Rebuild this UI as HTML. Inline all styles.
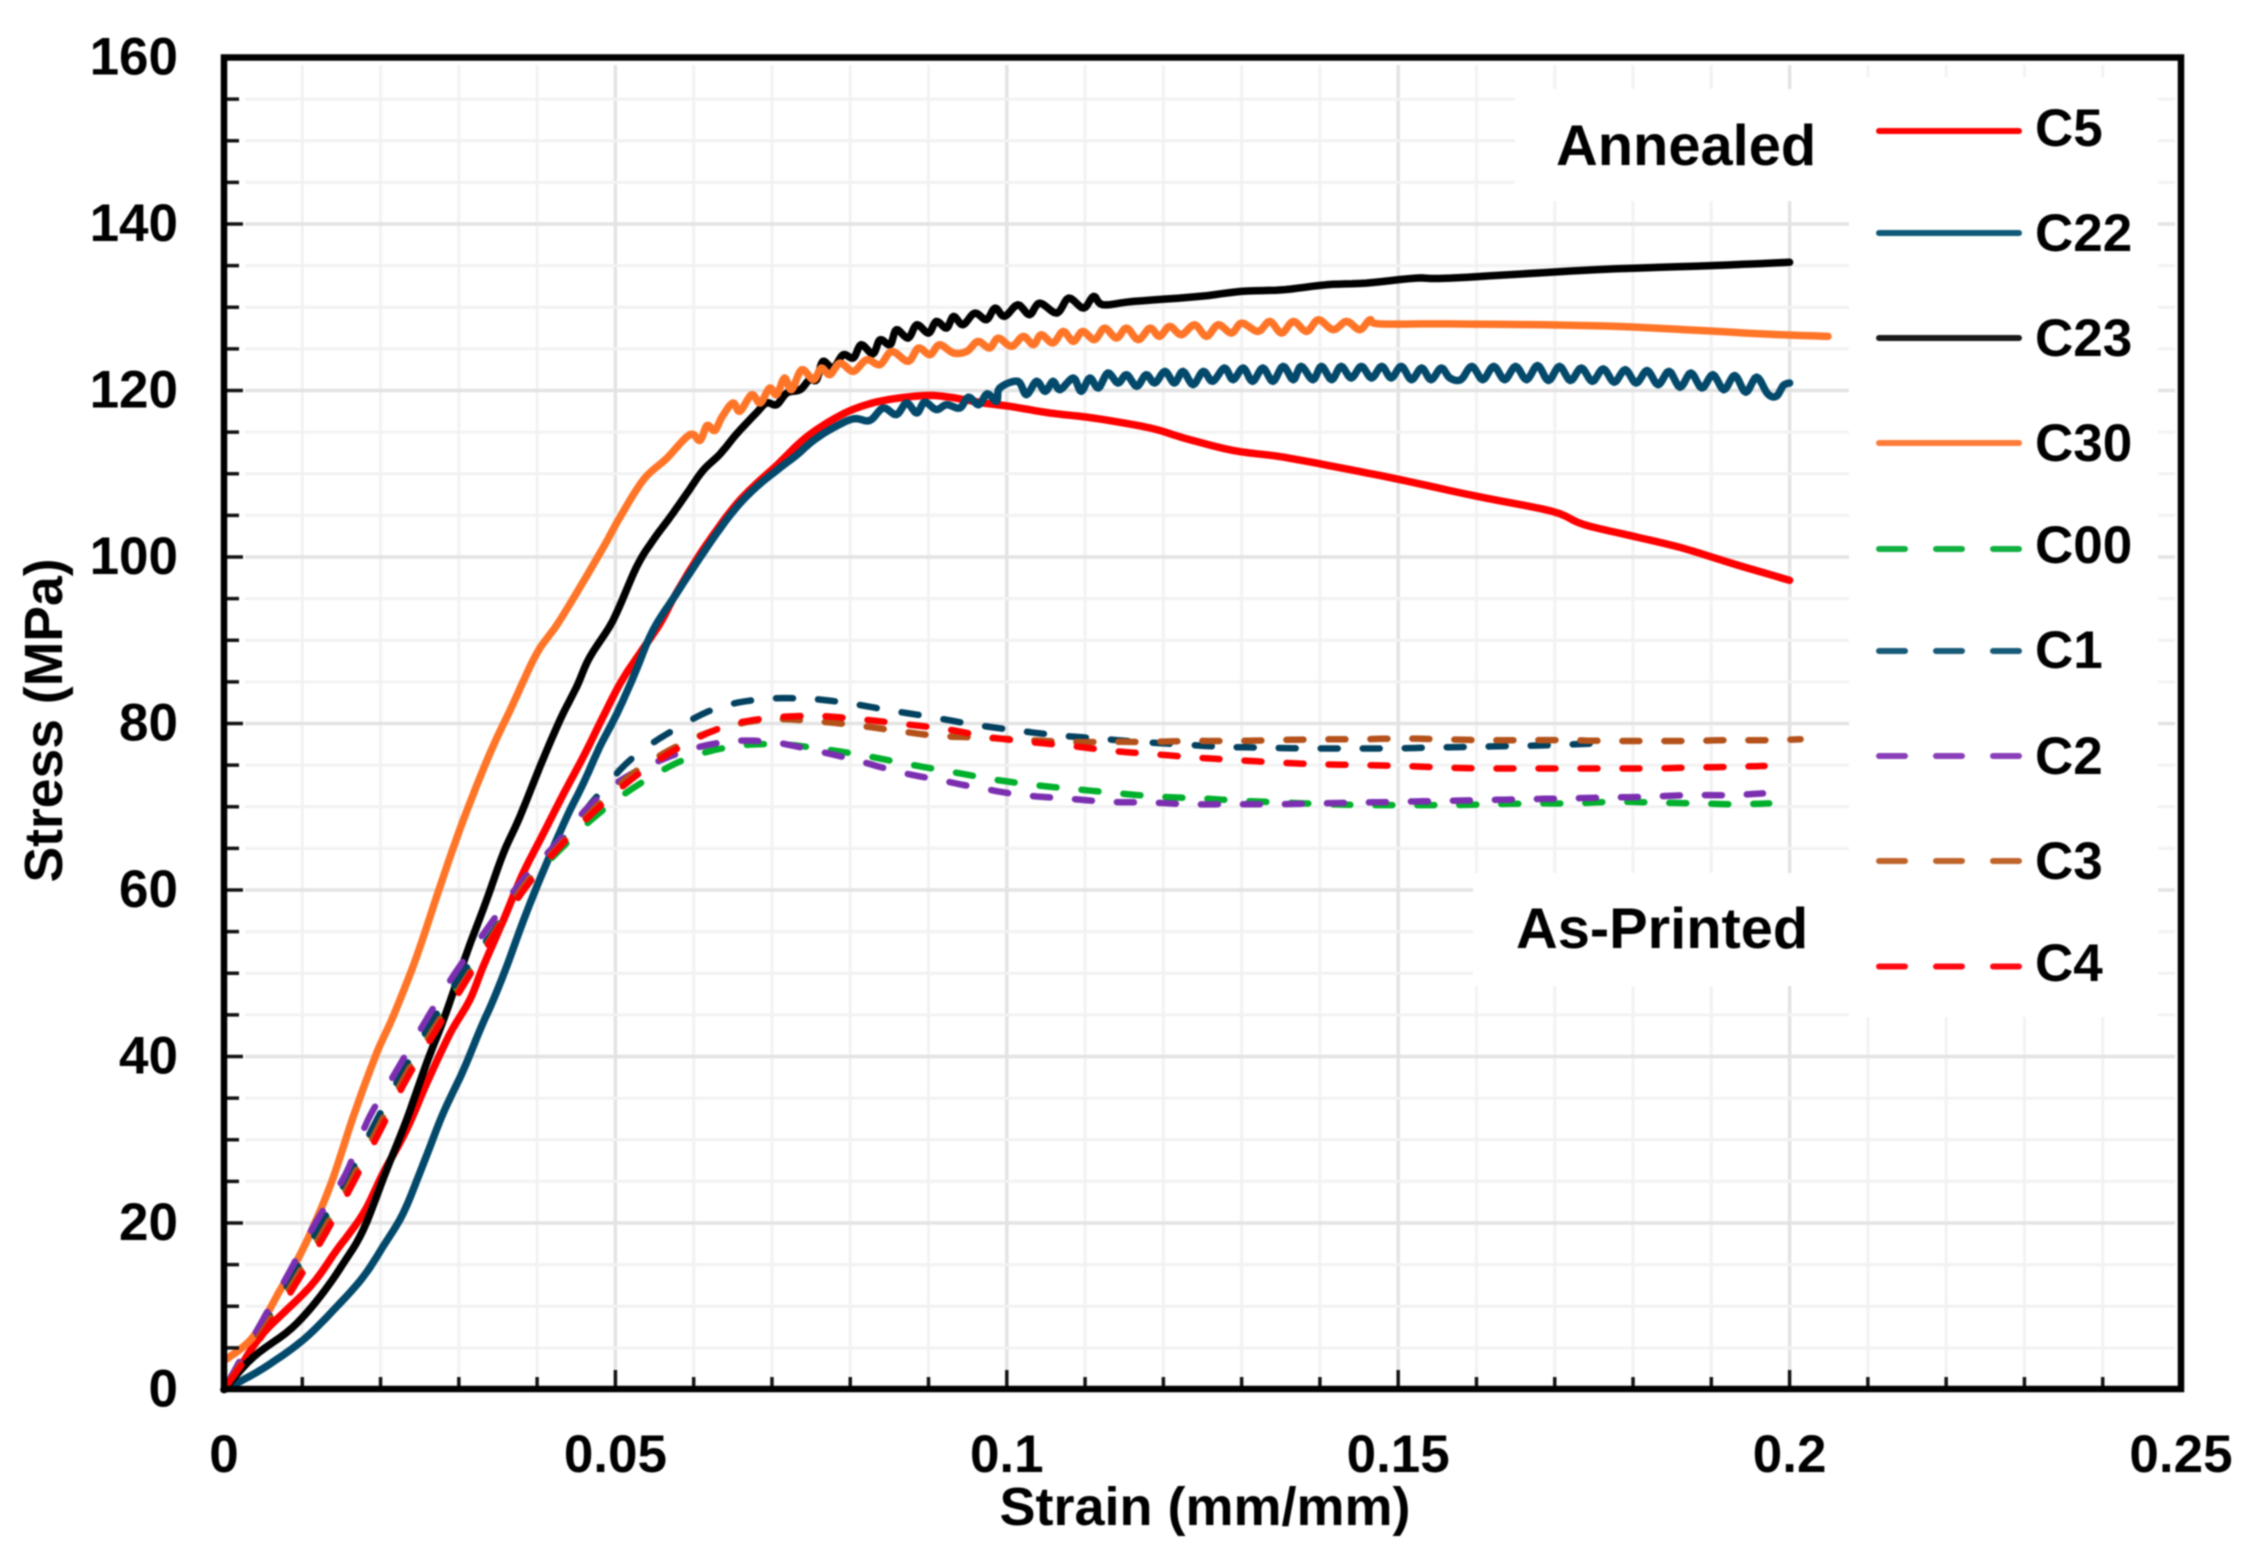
<!DOCTYPE html>
<html lang="en">
<head>
<meta charset="utf-8">
<title>Stress-strain curves</title>
<style>
html,body{margin:0;padding:0;background:#fff;width:2250px;height:1550px;overflow:hidden}
svg{display:block;filter:blur(0.8px)}
text{font-family:"Liberation Sans",Arial,sans-serif;font-weight:bold;fill:#000}
</style>
</head>
<body>
<svg id="chart" xmlns="http://www.w3.org/2000/svg" width="2250" height="1550" viewBox="0 0 2250 1550">
<rect x="0" y="0" width="2250" height="1550" fill="#fff"/>
<g id="grid"></g>
<g fill="#fff">
<rect x="1515" y="89" width="340" height="112"/>
<rect x="1849" y="77" width="309" height="940"/>
<rect x="1473" y="873" width="380" height="113"/>
</g>
<g id="series"></g>
<g id="ticks"></g>
<rect x="224" y="57.5" width="1957" height="1331.5" fill="none" stroke="#000" stroke-width="6.5"/>
<g id="tick-labels"></g>
<text x="1205" y="1525" font-size="54" text-anchor="middle">Strain (mm/mm)</text>
<text x="0" y="0" font-size="53.5" text-anchor="middle" transform="translate(62 720.5) rotate(-90)">Stress (MPa)</text>
<text x="1556" y="165" font-size="57.8">Annealed</text>
<text x="1516" y="948" font-size="57.8">As-Printed</text>
<g id="legend"></g>
</svg>
<script>
var xTicks = [0, 0.05, 0.1, 0.15, 0.2, 0.25];
var xTickLabels = ["0", "0.05", "0.1", "0.15", "0.2", "0.25"];
var yTicks = [0, 20, 40, 60, 80, 100, 120, 140, 160];
var yTickLabels = ["0", "20", "40", "60", "80", "100", "120", "140", "160"];

var c5Strain = [0,.002,.005,.011,.0144,.0178,.0203,.0233,.0259,.0289,.0314,.0331,.0357,.0382,.0408,.0434,.0459,.048,.0506,.0531,.0557,.0575,.0603,.0629,.0655,.068,.0706,.0744,.0787,.0821,.0855,.0897,.0927,.097,.1004,.1055,.111,.1183,.1226,.1289,.1353,.1438,.1502,.16,.1696,.1737,.18,.1862,.1931,.2];
var c5Stress = [0,2.6,6.75,12.35,16.75,21.15,25.95,31.15,36.8,42.8,46.8,50.8,56.4,62,66.8,71.6,76,80,84.8,88.4,92,95.2,99.6,103.2,106.4,108.8,111,114.4,117,118.3,119,119.4,119.2,118.5,118.1,117.3,116.7,115.5,114.3,112.8,112,110.5,109.3,107.3,105.5,103.9,102.5,101.1,99.1,97.2];

var c22Strain = [0,.00077,.005,.0101,.0144,.0178,.0203,.0229,.0255,.028,.0306,.0327,.0344,.0361,.0386,.0412,.0438,.0459,.048,.0502,.0523,.0548,.0578,.0603,.0629,.0655,.068,.0706,.0731,.0753,.0778,.0804,.0825,.0842,.0859,.0872,.0885,.0895,.091,.0923,.094,.0951,.0964,.0975,.0987,.0991,.1014,.1025,.1038,.1049,.1059,.1068,.1085,.1095,.1106,.1117,.1129,.1142,.1153,.1166,.1178,.1189,.1202,.1214,.1225,.1238,.1251,.1263,.1278,.1289,.1302,.1314,.1327,.134,.1353,.1366,.1376,.1391,.1402,.1415,.1427,.144,.1453,.1466,.1479,.1491,.1504,.1517,.153,.1542,.1555,.1566,.158,.1594,.1608,.1622,.1636,.165,.1664,.1678,.1692,.1706,.172,.1734,.1748,.1762,.1776,.179,.1804,.1818,.1832,.1846,.186,.1874,.1888,.1902,.1916,.193,.1944,.1958,.1972,.1983,.1992,.2];
var c22Stress = [0,.34,2.54,5.95,9.95,13.55,17.15,21.2,27.2,33.2,38.4,43.2,46.8,50.8,57.2,63.2,68.8,72.8,77.2,81.2,85.6,91.2,95.6,99.2,102.8,106,108.4,110.4,112.2,114,115.5,116.6,116.4,117.9,117.1,118.5,117.3,118.6,117.7,118.3,117.9,119.2,118.3,119.6,118.7,120.3,121.1,119.5,121.1,119.9,121.1,120.1,121.5,119.9,121.5,120.3,122.1,120.9,121.9,120.5,121.9,120.9,122.3,120.9,122.3,120.7,122.3,121.1,122.7,121.3,122.7,121.1,122.7,121.1,122.9,121.3,122.9,121.3,122.9,121.3,122.9,121.5,122.9,121.5,122.9,121.5,122.9,121.3,122.7,121.3,122.7,121.5,121.3,122.9,121.3,122.9,121.3,122.9,121.3,123,121.2,122.9,121.2,122.7,121.1,122.6,121,122.5,120.9,122.4,120.7,122.3,120.4,122.1,120.3,121.9,120.1,121.8,119.8,121.6,119.6,119.3,120.6,120.9];

var c23Strain = [0,.00375,.00864,.01226,.01524,.0178,.02078,.02333,.02588,.0282,.031,.03355,.03568,.0378,.04036,.04291,.04504,.04674,.0497,.0527,.0548,.057,.0591,.0612,.0634,.0655,.068,.0693,.0706,.0719,.0736,.0748,.0757,.0765,.0778,.0791,.0804,.0814,.0829,.0838,.0851,.0859,.0874,.0885,.09,.091,.0923,.0932,.0944,.0959,.0974,.0985,.0997,.1014,.1029,.1042,.1064,.1079,.1098,.1111,.1123,.1162,.1246,.1299,.1353,.1408,.1459,.1523,.1566,.1751,.19,.2];
var c23Stress = [0,3.9,7.35,11.15,15.15,19.2,26.4,32.4,39.2,44.8,52.4,58.8,64.4,68.8,74.8,80.4,84.4,88,92.4,98.8,102,104.8,107.6,110.4,112.4,114.8,117.3,118.5,118.3,119.7,120.1,121.3,121.3,123.5,122.7,124.3,123.9,125.5,124.4,126.1,125.5,127.3,126.3,127.9,126.9,128.3,127.5,128.9,127.9,129.3,128.5,129.9,128.9,130.3,129.1,130.5,129.3,131.1,129.9,131.3,130.3,130.7,131.3,131.9,132.1,132.7,132.9,133.5,133.5,134.5,135,135.4];

var c30Strain = [.0004,.00375,.00694,.01013,.01354,.01652,.0195,.0216,.02461,.02759,.03057,.03397,.03695,.03994,.04291,.048,.0506,.0536,.0565,.0595,.0608,.0617,.0627,.0636,.065,.0659,.0674,.0685,.0697,.0706,.0716,.0725,.0738,.0753,.0763,.0774,.0787,.0804,.0821,.0838,.0853,.0874,.0887,.0902,.0914,.0932,.0949,.0963,.0978,.0989,.1006,.1021,.1034,.1044,.1059,.1072,.1085,.1097,.1112,.1125,.114,.1153,.1168,.1183,.1195,.1208,.1223,.124,.1255,.127,.1287,.13,.1321,.1336,.1351,.1366,.1383,.1398,.1417,.1434,.1451,.1464,.1476,.1566,.1744,.1848,.1965,.2049];
var c30Stress = [3.7,6.35,11.55,16.96,24.4,32.8,40.4,44.8,52,60.4,68.4,76.4,82.4,88.4,92.4,100.4,104.8,109.3,111.8,114.7,114,115.8,115.2,116.8,118.5,117.5,119.5,118.5,120.3,119.5,121.5,120.1,122.5,121.3,122.7,121.9,123.3,122.3,123.7,123.1,124.7,123.5,125.1,124.3,125.5,124.5,124.7,125.9,125.1,126.3,125.3,126.5,125.5,126.7,125.7,127.1,125.9,127.1,126.1,127.5,126.3,127.5,126.1,127.5,126.5,127.7,126.7,127.9,126.5,127.9,126.9,128.1,127.1,128.3,126.9,128.3,127.1,128.5,127.3,128.3,127.3,128.5,128,128,127.8,127.4,126.8,126.5];

var c00Strain = [0,.0052,.0089,.0123,.0159,.0193,.0227,.0263,.0301,.0344,.0386,.0433,.0484,.0542,.0597,.0655,.0711,.0768,.0821,.0875,.0929,.0982,.1036,.1089,.1144,.1196,.1248,.1303,.1356,.1411,.1464,.1516,.1568,.162,.1672,.1724,.1776,.1828,.188,.1932,.1974];
var c00Stress = [0,7.75,13.6,19.4,25.4,31.8,37.8,43.4,48.8,54.4,60.4,65.2,69.6,73.4,76,77.3,77.5,76.9,76.1,75.1,74.2,73.3,72.6,72.1,71.6,71.2,71,70.7,70.5,70.3,70.2,70.2,70.2,70.3,70.4,70.4,70.6,70.5,70.4,70.3,70.4];

var c1Strain = [0,.0052,.0089,.0123,.0159,.0193,.0227,.0263,.0301,.0344,.0386,.043,.0476,.0521,.0574,.0628,.0685,.0741,.0794,.0849,.0902,.0956,.1009,.1063,.1115,.1168,.1222,.1276,.1328,.1382,.1434,.1488,.154,.1594,.1646,.1698,.1749,.176];
var c1Stress = [0,7.9,13.9,19.8,25.6,32,38,43.8,49.5,55,60.8,65.8,71.2,75.8,79.2,81.8,82.9,83,82.5,81.6,80.8,79.9,79.2,78.6,78.2,77.8,77.5,77.2,77.1,77,77,77,77.1,77.2,77.3,77.4,77.6,77.7];

var c2Strain = [0,.0048,.0084,.0118,.0155,.0184,.0221,.0257,.0295,.0335,.0378,.0421,.0468,.0514,.058,.0641,.0697,.0753,.0807,.0861,.0914,.0968,.102,.1075,.1129,.1183,.1238,.1291,.1343,.1398,.1451,.1503,.1557,.161,.1662,.1714,.1766,.1819,.1871,.1923,.1966];
var c2Stress = [0,8.1,14.2,20.2,25.8,32.4,38.4,44.2,50,55.2,60.8,65.2,70.2,73.6,76.4,77.8,77.8,76.8,75.6,74.2,73.2,72.2,71.4,71,70.6,70.5,70.3,70.3,70.3,70.4,70.5,70.6,70.7,70.8,70.9,71,71.1,71.2,71.4,71.4,71.6];

var c3Strain = [0,.0054,.0092,.0127,.0163,.0197,.0231,.0267,.0308,.0346,.0384,.0431,.048,.0531,.059,.0642,.0695,.0751,.0807,.0861,.0914,.0968,.1075,.1131,.1183,.1238,.1291,.1344,.1398,.1451,.1503,.1557,.1609,.1662,.1714,.1765,.1817,.1867,.192,.1971,.2014];
var c3Stress = [0,7.7,13.4,19.1,25.2,31.5,37.6,43.2,49.2,55,60.6,65.6,70.4,74.6,77.8,79.6,80.5,80.3,79.8,79.1,78.5,78.3,77.8,77.8,77.8,77.9,77.9,78,78.1,78.1,78.2,78.1,78,78,78,77.9,77.9,77.9,78,78,78.1];

var c4Strain = [0,.0057,.0095,.013,.0166,.02,.0234,.027,.031,.0348,.0386,.0433,.0482,.0536,.0591,.0645,.0702,.0758,.0814,.0871,.0924,.0975,.1027,.1082,.1136,.119,.1243,.1295,.1348,.1401,.1454,.1506,.156,.1611,.1664,.1716,.177,.1822,.1874,.1926,.1968];
var c4Stress = [0,7.6,13.2,18.8,25,31.2,37.4,43,49.2,55,60.4,65.6,70.2,74.4,77.6,79.8,80.7,80.9,80.5,79.9,79.3,78.4,77.8,77.3,76.7,76.3,75.9,75.6,75.3,75.1,75,74.9,74.7,74.6,74.6,74.6,74.6,74.6,74.7,74.8,74.9];

var solidSeries = [
  {name:"C5", color:"#ff0000", strain:c5Strain, stress:c5Stress},
  {name:"C22", color:"#02496b", strain:c22Strain, stress:c22Stress},
  {name:"C23", color:"#000000", strain:c23Strain, stress:c23Stress},
  {name:"C30", color:"#ff7528", strain:c30Strain, stress:c30Stress}
];
var dashedSeries = [
  {name:"C00", color:"#00b02c", strain:c00Strain, stress:c00Stress},
  {name:"C1", color:"#02415f", strain:c1Strain, stress:c1Stress},
  {name:"C2", color:"#7b2fb0", strain:c2Strain, stress:c2Stress},
  {name:"C3", color:"#b4511a", strain:c3Strain, stress:c3Stress},
  {name:"C4", color:"#ff0000", strain:c4Strain, stress:c4Stress}
];
var legendNames = ["C5","C22","C23","C30","C00","C1","C2","C3","C4"];
var legendColors = ["#ff0000","#0f5a78","#1a1a1a","#ff7b3a","#10b040","#175a78","#8a3fb8","#bf6429","#ff0a14"];

var NS = "http://www.w3.org/2000/svg";
function xScale(v){ return 224 + v * 7828; }
function yScale(v){ return 1389.5 - v * 8.325; }
function make(tag, parent, attrs){
  var el = document.createElementNS(NS, tag);
  for (var k in attrs) el.setAttribute(k, attrs[k]);
  parent.appendChild(el);
  return el;
}

var gridG = document.getElementById("grid");
var ticksG = document.getElementById("ticks");
var labelsG = document.getElementById("tick-labels");
var seriesG = document.getElementById("series");
var legendG = document.getElementById("legend");

var i;
for (i = 1; i < 25; i++) {
  var xv = i / 100;
  var isMajorX = i % 5 === 0;
  var px = xScale(xv);
  var gx = make("line", gridG, {x1:px, x2:px, y1:65, y2:isMajorX ? 1370 : 1376, stroke:isMajorX ? "#e3e3e3" : "#f2f2f2", "stroke-width":isMajorX ? 3.5 : 3});
  
  
  var tx = make("line", ticksG, {x1:px, x2:px, y1:1389, y2:isMajorX ? 1370 : 1377, stroke:"#111", "stroke-width":3.5});
  
  
}
for (i = 5; i < 160; i += 5) {
  var isMajorY = i % 20 === 0;
  var py = yScale(i);
  var gy = make("line", gridG, {x1:245, x2:2175, y1:py, y2:py, stroke:isMajorY ? "#e3e3e3" : "#f2f2f2", "stroke-width":isMajorY ? 3.5 : 3});
  
  
  var ty = make("line", ticksG, {x1:224, x2:isMajorY ? 243 : 239, y1:py, y2:py, stroke:"#111", "stroke-width":3.5});
  
  
}
xTicks.forEach(function(v, idx){
  var t = make("text", labelsG, {x:xScale(v), y:1472, "font-size":53, "text-anchor":"middle"});
  t.textContent = xTickLabels[idx];
  
  
});
yTicks.forEach(function(v, idx){
  var t = make("text", labelsG, {x:178, y:yScale(v) + 17, "font-size":53, "text-anchor":"end"});
  t.textContent = yTickLabels[idx];
  
  
});

function pointsOf(s){
  return s.strain.map(function(v, k){ return [xScale(v), yScale(s.stress[k])]; });
}
/* Catmull-Rom sampling so the read-off points join as a smooth curve */
function smoothOf(pts){
  var out = [pts[0]];
  for (var k = 0; k < pts.length - 1; k++) {
    var p0 = pts[Math.max(k-1, 0)], p1 = pts[k], p2 = pts[k+1], p3 = pts[Math.min(k+2, pts.length-1)];
    for (var n = 1; n <= 6; n++) {
      var t = n/6, t2 = t*t, t3 = t2*t;
      out.push([
        0.5*(2*p1[0] + (p2[0]-p0[0])*t + (2*p0[0]-5*p1[0]+4*p2[0]-p3[0])*t2 + (3*p1[0]-p0[0]-3*p2[0]+p3[0])*t3),
        0.5*(2*p1[1] + (p2[1]-p0[1])*t + (2*p0[1]-5*p1[1]+4*p2[1]-p3[1])*t2 + (3*p1[1]-p0[1]-3*p2[1]+p3[1])*t3)
      ]);
    }
  }
  return out;
}
solidSeries.forEach(function(s){
  var d = smoothOf(pointsOf(s)).map(function(p, k){ return (k ? "L" : "M") + p[0].toFixed(1) + " " + p[1].toFixed(1); }).join("");
  var path = make("path", seriesG, {d:d, fill:"none", stroke:s.color, "stroke-width":7.5, "stroke-linejoin":"round", "stroke-linecap":"round"});
  
  
});

var dashOn = 17, dashOff = 25, dashStart = 6, yStretch = 1.6;
function dashPath(points){
  var out = "", pos = -dashStart;
  var period = dashOn + dashOff;
  for (var k = 1; k < points.length; k++) {
    var a = points[k-1], b = points[k];
    var dx = b[0]-a[0], dy = b[1]-a[1];
    var len = Math.sqrt(dx*dx + dy*dy/(yStretch*yStretch));
    if (len === 0) continue;
    var walked = 0;
    while (walked < len) {
      var phase = pos < 0 ? pos : pos % period;
      var nextEdge = phase < 0 ? -phase : (phase < dashOn ? dashOn - phase : period - phase);
      var step = Math.min(nextEdge, len - walked);
      var t0 = walked/len, t1 = (walked+step)/len;
      if (phase >= 0 && phase < dashOn) {
        var cont = out.length && t0 === 0 && k > 1 && phase > 0;
        out += (cont ? "L" : "M" + (a[0]+dx*t0).toFixed(1) + " " + (a[1]+dy*t0).toFixed(1) + "L") + (a[0]+dx*t1).toFixed(1) + " " + (a[1]+dy*t1).toFixed(1);
      }
      walked += step;
      pos += step;
      if (step < 1e-6) pos += 1e-4;
    }
  }
  return out;
}
dashedSeries.forEach(function(s){
  var path = make("path", seriesG, {d:dashPath(smoothOf(pointsOf(s))), fill:"none", stroke:s.color, "stroke-width":6.5, "stroke-linecap":"round", "stroke-linejoin":"round"});
  
  
});

var legendLineY = [131, 233, 338, 443, 549, 651, 756, 861, 966.5];
var legendTextY = [146, 251, 356, 461, 563, 668, 774, 879, 981];
legendNames.forEach(function(n, idx){
  var y = legendLineY[idx];
  var dashed = idx >= 4;
  var line = make("line", legendG, {x1:1879, x2:2019, y1:y, y2:y, stroke:legendColors[idx], "stroke-width":6, "stroke-linecap":"round"});
  if (dashed) line.setAttribute("stroke-dasharray", "26 31");
  
  
  var t = make("text", legendG, {x:2035, y:legendTextY[idx], "font-size":53});
  t.textContent = n;
  
  
});
</script>
</body>
</html>
